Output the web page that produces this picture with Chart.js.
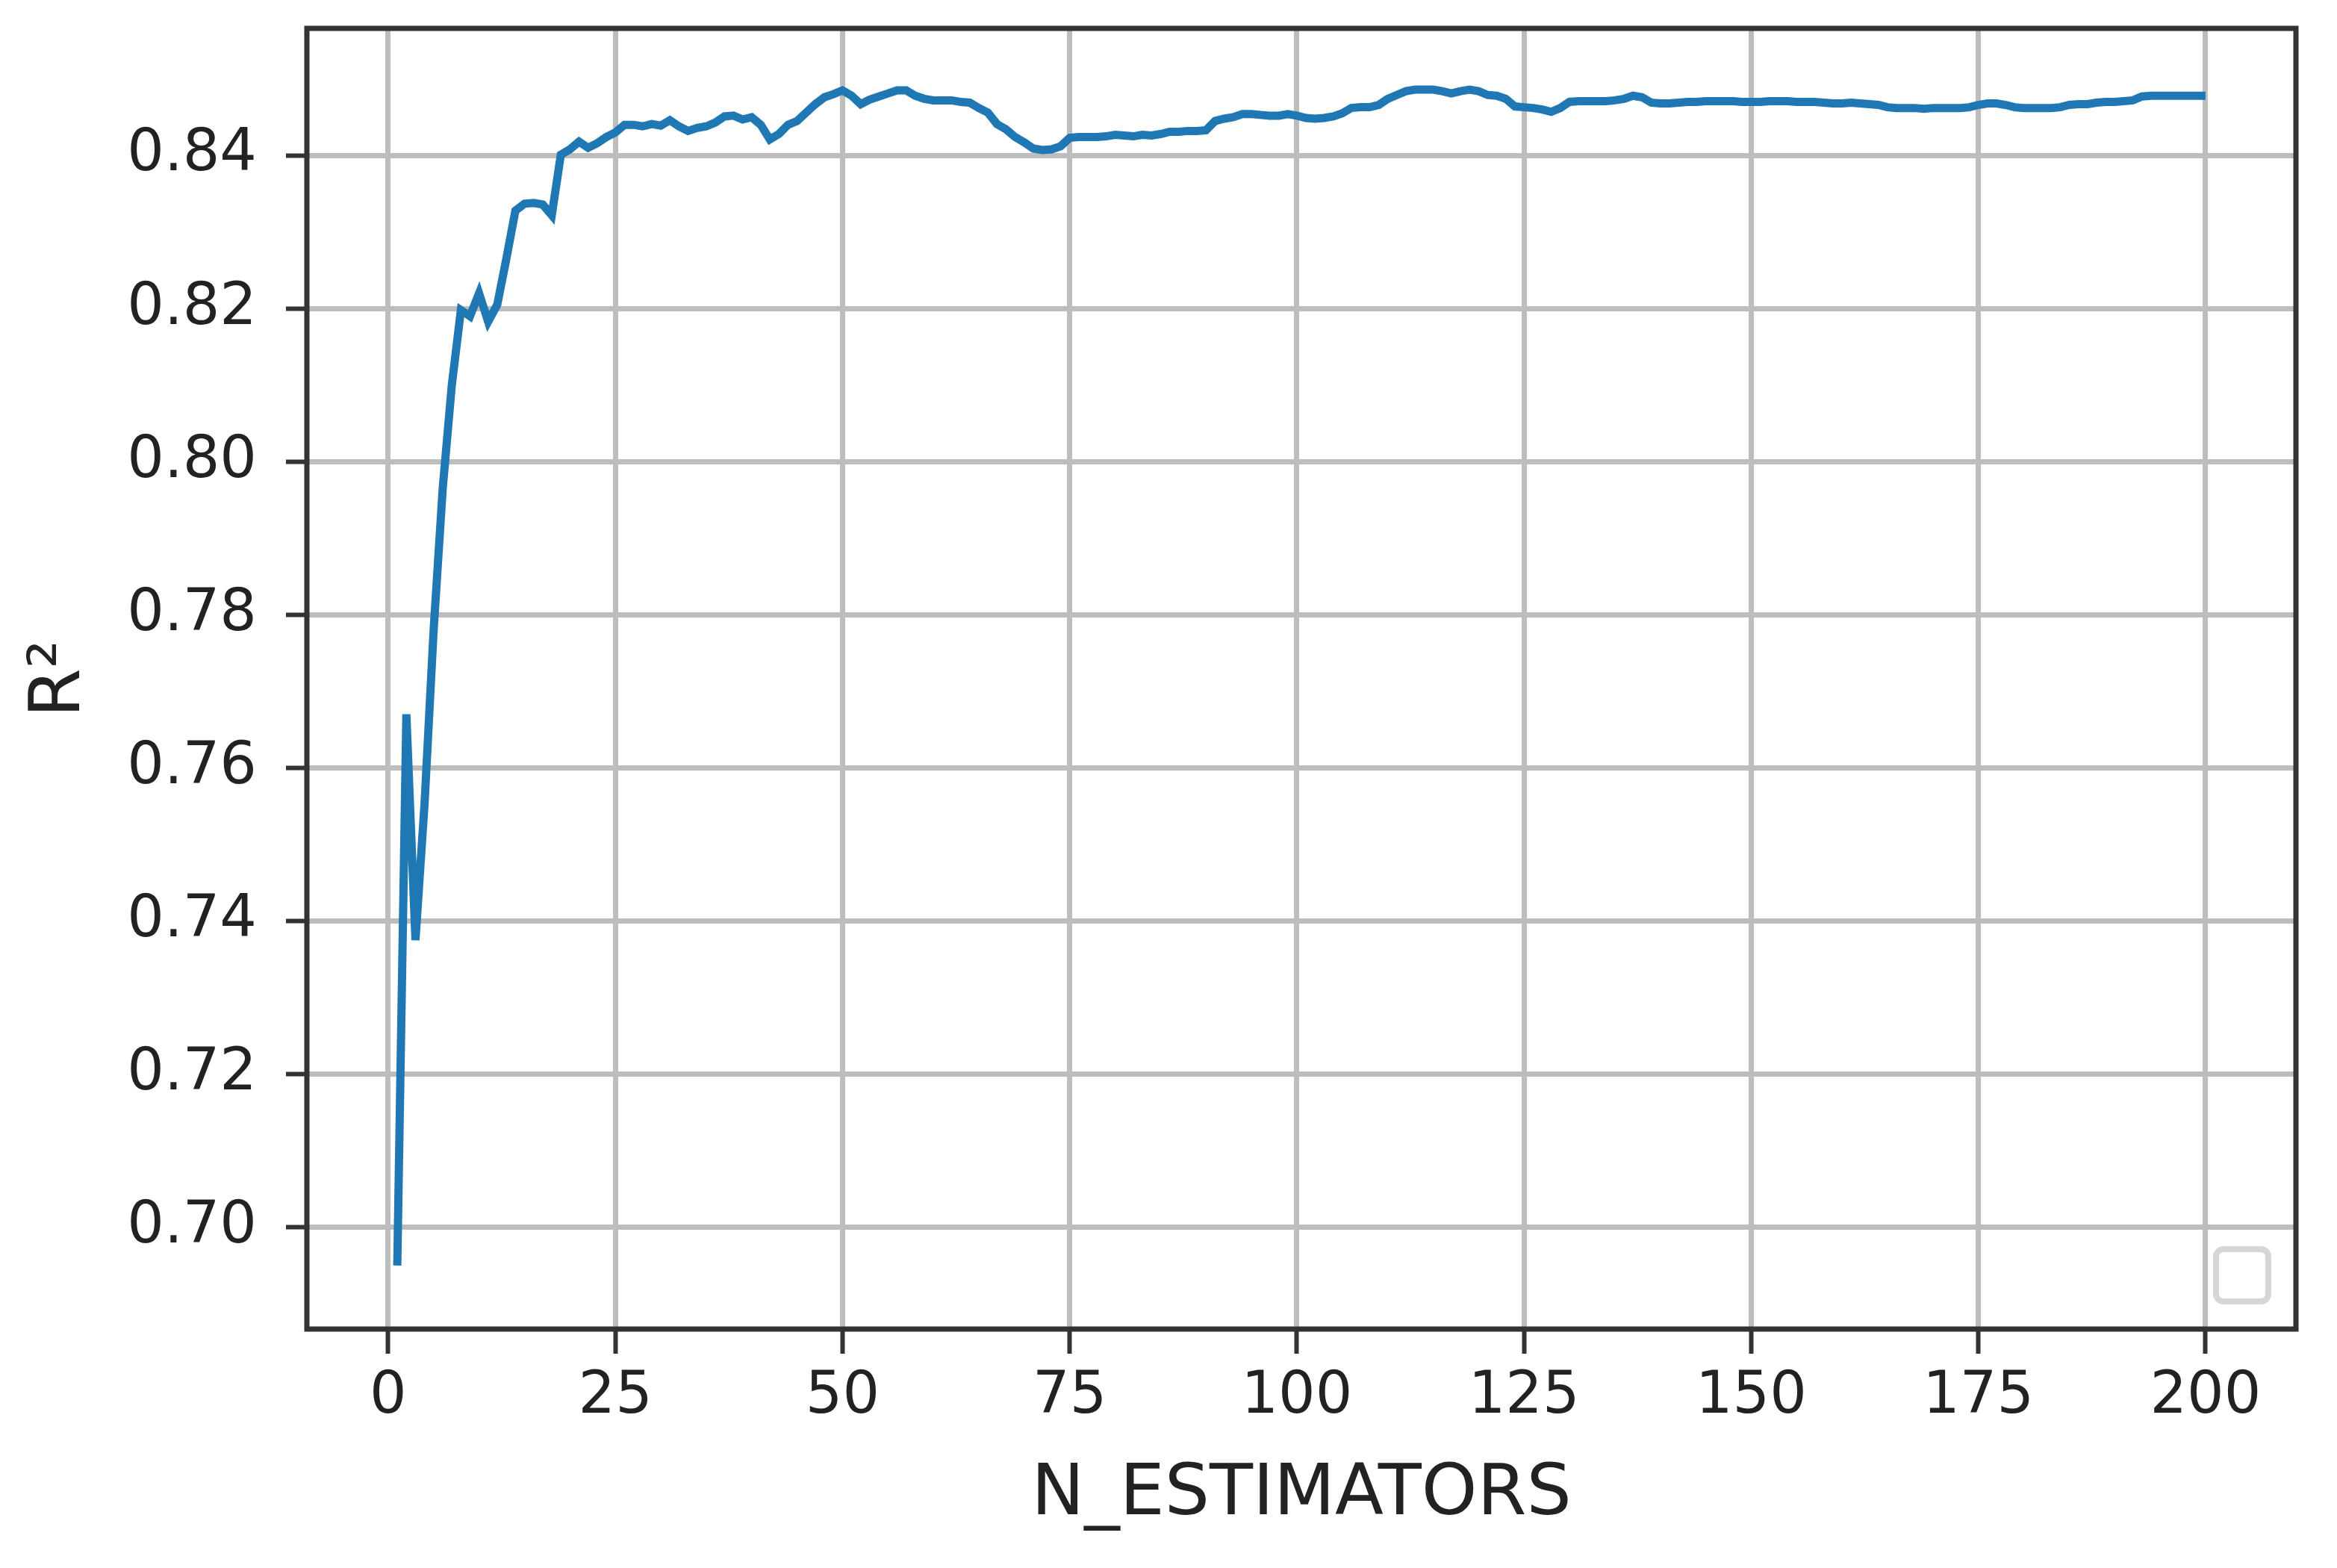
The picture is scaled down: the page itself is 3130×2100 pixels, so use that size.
<!DOCTYPE html>
<html>
<head>
<meta charset="utf-8">
<script src="https://cdn.jsdelivr.net/npm/chart.js@4.4.1/dist/chart.umd.min.js"></script>
<style>
  html, body { margin: 0; padding: 0; background: #fff; }
  #wrap { width: 3130px; height: 2100px; }
</style>
</head>
<body>
<div id="wrap"><canvas id="r2-chart" width="3130" height="2100"></canvas></div>
<script>
// n_estimators 1..200
const nEstimators = Array.from({ length: 200 }, (_, i) => i + 1);

// R², 10 per row
const r2Scores = [
    0.6950, 0.7670, 0.7375, 0.7553, 0.7780, 0.7965, 0.8100, 0.8198, 0.8190, 0.8220,
    0.8183, 0.8205, 0.8265, 0.8328, 0.8337, 0.8338, 0.8336, 0.8322, 0.8401, 0.8408,
    0.8418, 0.8410, 0.8416, 0.8424, 0.8430, 0.8440, 0.8440, 0.8438, 0.8441, 0.8439,
    0.8446, 0.8438, 0.8432, 0.8436, 0.8438, 0.8443, 0.8451, 0.8452, 0.8447, 0.8450,
    0.8440, 0.8421, 0.8428, 0.8440, 0.8445, 0.8456, 0.8467, 0.8476, 0.8480, 0.8485,
    0.8478, 0.8467, 0.8473, 0.8477, 0.8481, 0.8485, 0.8485, 0.8478, 0.8474, 0.8472,
    0.8472, 0.8472, 0.8470, 0.8469, 0.8462, 0.8456, 0.8441, 0.8434, 0.8424, 0.8417,
    0.8409, 0.8407, 0.8408, 0.8412, 0.8423, 0.8424, 0.8424, 0.8424, 0.8425, 0.8427,
    0.8426, 0.8425, 0.8427, 0.8426, 0.8428, 0.8431, 0.8431, 0.8432, 0.8432, 0.8433,
    0.8445, 0.8448, 0.8450, 0.8454, 0.8454, 0.8453, 0.8452, 0.8452, 0.8454, 0.8452,
    0.8449, 0.8448, 0.8449, 0.8451, 0.8455, 0.8462, 0.8463, 0.8463, 0.8466, 0.8474,
    0.8479, 0.8484, 0.8486, 0.8486, 0.8486, 0.8484, 0.8481, 0.8484, 0.8486, 0.8484,
    0.8479, 0.8478, 0.8474, 0.8464, 0.8463, 0.8462, 0.8460, 0.8457, 0.8462, 0.8470,
    0.8471, 0.8471, 0.8471, 0.8471, 0.8472, 0.8474, 0.8478, 0.8476, 0.8469, 0.8468,
    0.8468, 0.8469, 0.8470, 0.8470, 0.8471, 0.8471, 0.8471, 0.8471, 0.8470, 0.8470,
    0.8470, 0.8471, 0.8471, 0.8471, 0.8470, 0.8470, 0.8470, 0.8469, 0.8468, 0.8468,
    0.8469, 0.8468, 0.8467, 0.8466, 0.8463, 0.8462, 0.8462, 0.8462, 0.8461, 0.8462,
    0.8462, 0.8462, 0.8462, 0.8463, 0.8466, 0.8468, 0.8468, 0.8466, 0.8463, 0.8462,
    0.8462, 0.8462, 0.8462, 0.8463, 0.8466, 0.8467, 0.8467, 0.8469, 0.8470, 0.8470,
    0.8471, 0.8472, 0.8477, 0.8478, 0.8478, 0.8478, 0.8478, 0.8478, 0.8478, 0.8478
];

const xTicks = [0, 25, 50, 75, 100, 125, 150, 175, 200];
const yTicks = [0.70, 0.72, 0.74, 0.76, 0.78, 0.80, 0.82, 0.84];
const xTitle = 'N_ESTIMATORS';
const yTitle = 'R²';

Chart.defaults.font.family = "'DejaVu Sans', sans-serif";

// box round the plot + the empty legend frame in the corner
const framePlugin = {
    id: 'frame',
    afterDraw(chart) {
        const { ctx, chartArea: a } = chart;
        ctx.save();
        ctx.fillStyle = '#fff';
        ctx.strokeStyle = '#d6d6d6';
        ctx.lineWidth = 8;
        ctx.beginPath();
        ctx.roundRect(a.right - 107, a.bottom - 107, 70, 70, 10);
        ctx.fill();
        ctx.stroke();

        ctx.strokeStyle = '#333';
        ctx.lineWidth = 7;
        ctx.strokeRect(a.left, a.top, a.right - a.left, a.bottom - a.top);
        ctx.restore();
    }
};

// drop the extra room chart.js keeps for the end labels
const noEdgePad = (s) => {
    s.paddingTop = 0;
    s.paddingBottom = 0;
    s.paddingLeft = 0;
    s.paddingRight = 0;
};

const r2Canvas = document.querySelector('#r2-chart').getContext('2d');

let r2Chart = new Chart(r2Canvas, {
    type: 'line',
    data: {
        datasets: [
            {
                data: nEstimators.map((n, i) => ({ x: n, y: r2Scores[i] })),
                borderColor: '#1f77b4',
                borderWidth: 11,
                pointRadius: 0,
                tension: 0,
                fill: false
            }
        ]
    },
    options: {
        responsive: false,
        devicePixelRatio: 1,
        animation: false,
        layout: {
            padding: { top: 38, right: 55, left: 0, bottom: 0 }
        },
        plugins: {
            legend: { display: false },
            title: { display: false },
            tooltip: { enabled: false }
        },
        scales: {
            x: {
                type: 'linear',
                min: -8.95,
                max: 209.95,
                afterBuildTicks: (s) => { s.ticks = xTicks.map(v => ({ value: v })); },
                afterFit: (s) => { s.height = 320; noEdgePad(s); },
                border: { display: false },
                grid: {
                    color: '#bdbdbd',
                    lineWidth: 7,
                    tickLength: 33,
                    tickColor: '#333',
                    tickWidth: 6
                },
                ticks: {
                    color: '#222',
                    font: { size: 78 },
                    padding: 12,
                    maxRotation: 0,
                    autoSkip: false
                },
                title: {
                    display: true,
                    text: xTitle,
                    color: '#222',
                    font: { size: 95 },
                    padding: { top: 0, bottom: 40 }
                }
            },
            y: {
                min: 0.6867,
                max: 0.8566,
                afterBuildTicks: (s) => { s.ticks = yTicks.map(v => ({ value: v })); },
                afterFit: (s) => { s.width = 411; noEdgePad(s); },
                border: { display: false },
                grid: {
                    color: '#bdbdbd',
                    lineWidth: 7,
                    tickLength: 28,
                    tickColor: '#333',
                    tickWidth: 6
                },
                ticks: {
                    color: '#222',
                    font: { size: 78 },
                    padding: 39,
                    autoSkip: false,
                    callback: (v) => v.toFixed(2)
                },
                title: {
                    display: true,
                    text: yTitle,
                    color: '#222',
                    font: { size: 95 },
                    padding: { top: 24, bottom: 0 }
                }
            }
        }
    },
    plugins: [framePlugin]
});
</script>
</body>
</html>
